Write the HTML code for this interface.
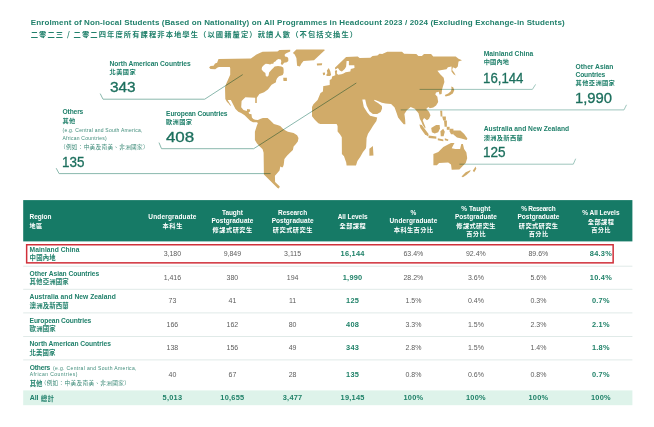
<!DOCTYPE html>
<html lang="en">
<head>
<meta charset="utf-8">
<title>Enrolment of Non-local Students</title>
<style>
html,body{margin:0;padding:0;background:#fff;}
body{width:654px;height:427px;position:relative;overflow:hidden;font-family:"Liberation Sans","Noto Sans CJK TC",sans-serif;color:#20806b;}
.t{position:absolute;white-space:nowrap;line-height:1;margin:0;}
.b{font-weight:bold;}
.w{color:#fff;}
.num{color:#1c6f5d;-webkit-text-stroke:0.3px #1c6f5d;}
.zh{font-weight:bold;font-family:"Noto Sans CJK TC","Liberation Sans",sans-serif;}
.sm{color:#3f8c7a;}
.smzh{color:#3f8c7a;font-family:"Noto Sans CJK TC","Liberation Sans",sans-serif;}
.dv{color:#5c5c5c;}
.dv.b{color:#1f8168;letter-spacing:0.25px;}
svg{position:absolute;left:0;top:0;}
</style>
</head>
<body>
<svg width="654" height="427" viewBox="0 0 654 427">
<g fill="#d1ab69" stroke="none">
<polygon points="209.1,67.5 210.5,66.1 213.6,65.7 215.0,63.5 217.1,62.7 218.5,59.1 250.9,58.6 255.1,55.5 256.0,54.8 259.7,52.9 262.6,51.7 277.5,51.5 279.4,50.1 290.2,49.8 290.2,51.5 287.9,52.4 285.8,53.4 284.6,54.8 285.0,56.6 287.4,57.1 288.3,58.5 288.3,60.9 286.9,62.3 284.1,62.7 283.2,64.1 282.2,65.1 280.8,64.1 281.3,61.3 280.8,59.5 278.5,59.0 276.6,59.9 275.7,61.3 273.8,62.3 273.3,63.7 271.5,63.7 270.1,64.6 268.2,64.1 265.8,63.7 264.0,65.1 262.1,67.0 261.6,69.3 263.0,71.2 265.4,73.0 265.8,75.9 267.2,76.8 268.6,75.4 269.1,72.6 271.5,69.8 273.3,67.9 274.7,66.5 278.0,66.0 281.3,66.5 283.2,67.4 283.6,69.3 283.6,73.0 282.7,74.9 279.0,76.3 277.1,78.2 276.1,80.5 276.0,82.3 271.6,84.7 267.9,89.4 264.1,92.2 259.4,94.0 256.8,97.8 256.8,103.0 255.2,103.0 255.2,97.8 245.4,97.3 241.6,101.1 241.2,107.2 243.5,110.0 246.8,110.9 247.2,109.0 250.1,109.5 250.1,111.4 248.6,112.3 249.1,113.7 251.5,114.2 251.9,117.5 253.3,119.0 255.1,119.8 257.9,120.1 260.7,118.7 262.9,118.0 267.6,117.9 270.4,120.4 273.9,123.9 277.4,124.9 280.2,126.1 283.7,129.6 287.9,131.7 293.6,133.1 297.1,135.2 298.5,138.0 297.8,141.5 295.7,144.3 293.6,146.4 292.9,149.9 290.0,152.7 287.2,155.6 284.4,159.1 283.7,164.7 283.1,166.4 282.2,167.4 280.3,166.4 279.5,170.6 276.5,173.9 274.9,175.8 275.1,181.9 279.8,186.6 278.9,188.4 277.5,188.0 263.9,174.4 263.6,152.7 262.6,149.2 259.8,146.4 257.0,143.6 254.9,140.1 254.9,131.7 256.8,125.7 257.9,122.9 256.8,122.2 253.0,122.2 250.2,120.8 247.4,118.0 244.6,115.2 241.1,113.1 238.3,111.7 235.5,108.9 233.3,104.7 230.9,99.9 227.7,100.1 229.6,103.2 231.2,105.8 230.1,105.4 228.4,103.3 227.0,101.9 225.3,99.0 225.0,87.2 226.0,84.3 228.1,79.4 230.2,74.8 230.2,68.2 229.8,67.1 219.0,67.1 217.6,67.5 215.2,69.3 210.5,68.9"/>
<polygon points="283.2,77.7 286.9,77.7 286.9,81.0 283.5,81.0"/>
<polygon points="292.9,53.1 296.4,49.6 323.8,49.6 325.0,49.9 314.0,60.2 303.5,60.9 301.3,63.7 299.9,66.5 297.1,65.8 296.4,58.1 294.7,54.5"/>
<polygon points="316.8,63.5 322.2,63.2 321.8,65.3 317.0,65.6"/>
<polygon points="326.9,70.5 328.8,68.1 330.2,71.0 331.1,74.7 330.2,76.1 327.4,76.1 326.0,75.2 327.4,73.3"/>
<polygon points="322.7,72.8 325.0,72.4 325.0,74.7 323.2,75.2"/>
<polygon points="346.1,56.9 334.9,67.7 335.3,69.4 337.9,68.1 339.7,70.5 341.9,71.4 344.7,69.1 346.1,66.7 346.6,61.1 348.9,61.1 348.9,65.3 354.3,65.3 354.5,68.1 350.8,69.1 350.3,71.4 345.6,72.2 343.5,73.5 341.4,74.2 338.1,74.7 336.7,73.3 337.2,71.0 336.3,70.0 334.9,71.0 335.3,75.2 333.5,76.1 332.1,76.6 331.6,78.9 329.7,79.9 329.7,85.0 324.1,85.9 323.3,86.0 322.9,91.6 320.5,93.0 317.6,100.0 313.4,104.2 312.0,107.0 312.0,116.2 314.8,119.7 318.3,123.2 320.5,123.9 336.6,123.9 337.6,126.0 337.6,131.6 340.1,134.4 341.8,137.2 341.9,154.0 344.0,156.2 346.2,162.5 346.6,165.6 356.0,165.6 357.4,161.0 360.2,156.9 363.0,151.9 365.8,148.4 366.2,146.4 366.6,137.9 368.0,133.7 370.8,129.5 372.9,126.0 376.4,121.1 377.2,117.6 370.1,115.7 367.3,112.6 363.8,107.0 362.4,100.0 362.4,99.5 365.2,99.5 366.6,105.6 369.4,111.2 372.9,114.1 377.2,114.1 380.7,111.9 382.1,108.4 381.9,106.0 378.0,103.0 374.2,100.8 374.5,99.8 378.4,101.3 381.9,102.7 385.5,103.4 391.1,104.1 394.6,107.6 396.7,113.3 398.1,117.5 400.9,121.0 403.7,124.2 405.4,124.2 405.1,118.9 404.4,114.0 406.8,110.2 410.7,106.9 414.7,108.8 418.5,113.3 419.9,118.9 421.3,121.5 422.7,125.1 425.1,128.6 425.5,127.2 424.1,123.7 422.7,120.2 424.1,118.1 427.0,120.2 429.0,118.8 430.5,115.3 429.0,111.8 427.0,109.7 426.2,109.0 428.3,106.9 429.8,108.3 433.3,107.6 436.1,105.5 438.2,101.9 437.5,97.7 437.4,96.7 435.3,94.6 436.0,92.5 438.8,91.8 439.5,94.6 441.6,93.9 442.0,89.7 443.0,86.2 444.4,81.9 443.7,77.7 440.2,74.2 437.4,70.7 446.5,69.3 447.9,67.2 451.5,66.5 451.5,71.4 453.6,74.2 455.7,75.6 454.3,72.8 452.2,70.0 452.9,67.2 455.7,68.6 457.8,66.5 458.5,61.6 462.0,60.2 458.5,58.8 455.7,56.4 433.2,56.4 431.1,54.1 424.0,54.1 421.9,55.9 418.4,55.9 416.3,54.1 404.1,53.8 402.0,51.7 387.2,51.7 382.3,54.1 379.5,53.8 377.4,55.5 372.5,55.9 370.4,57.8 359.6,58.0 357.7,56.6"/>
<polygon points="369.4,148.8 372.9,146.0 373.5,155.6 369.4,155.8"/>
<polygon points="451.2,86.6 453.2,87.2 454.3,90.2 452.8,93.6 449.6,95.6 445.6,96.6 444.8,95.0 448.2,93.4 450.6,91.4 451.6,89.0"/>
<polygon points="419.4,124.6 421.8,125.0 428.6,134.0 428.2,136.4 424.8,134.2 420.4,128.0"/>
<polygon points="428.6,135.6 436.3,136.6 436.3,138.8 428.6,138.0"/>
<polygon points="437.8,138.2 443.3,139.4 443.3,141.2 437.8,140.2"/>
<polygon points="444.8,138.2 448.4,139.4 448.0,141.0 444.8,140.2"/>
<polygon points="431.2,127.9 436.1,125.1 439.6,125.1 440.0,128.6 438.2,132.2 434.7,133.6 431.9,132.2"/>
<polygon points="440.4,131.2 443.2,128.8 444.8,131.8 443.6,136.2 440.8,136.2"/>
<polygon points="440.2,110.8 442.2,110.8 442.4,116.6 440.6,116.6"/>
<polygon points="442.2,116.6 445.9,116.6 445.9,120.4 443.2,120.4"/>
<polygon points="444.0,120.4 446.9,120.4 446.9,126.8 444.6,126.8"/>
<polygon points="446.8,126.8 449.6,126.8 449.6,129.8 446.8,129.8"/>
<polygon points="449.6,128.8 453.4,128.8 453.4,134.2 451.0,134.2 449.6,131.6"/>
<polygon points="452.4,130.6 460.4,130.6 464.2,134.0 467.4,138.6 466.6,140.0 461.4,138.4 457.0,137.4 453.4,134.6"/>
<polygon points="433.4,154.0 438.3,151.9 443.3,146.9 447.5,144.8 451.0,143.1 454.5,143.1 453.1,145.5 451.7,148.3 455.2,149.1 460.1,149.1 461.3,144.1 462.9,144.1 464.1,149.1 466.4,152.6 467.2,158.2 465.7,163.1 462.2,166.6 459.4,169.4 451.7,169.8 451.0,164.5 448.2,162.4 439.1,163.1 436.9,165.2 433.4,165.2"/>
<polygon points="461.5,176.4 465.7,172.2 470.7,170.1 470.0,171.8 466.4,175.0 462.9,177.2"/>
<polygon points="472.8,170.8 475.6,166.6 476.3,168.7 474.2,172.2"/>
</g>
<g fill="none" stroke-width="0.9" style="mix-blend-mode:multiply">
<polyline points="100.2,93.6 103.0,99.2 204.7,99.2 242.7,74.6" stroke="#7db0a4"/>
<polyline points="159.0,142.6 161.5,148.7 253.7,148.7 356.3,83.0" stroke="#7db0a4"/>
<polyline points="56.2,168.2 59.1,173.6 270.6,173.6" stroke="#7db0a4"/>
<polyline points="419.6,89.4 532.4,89.4 535.6,84.4" stroke="#93bfb5"/>
<polyline points="400.7,109.9 624.0,109.9 626.5,104.8" stroke="#93bfb5"/>
<polyline points="459.4,164.2 573.3,164.2 575.7,158.7" stroke="#93bfb5"/>
</g>
</svg>
<svg width="654" height="427" viewBox="0 0 654 427"><rect x="23.2" y="200.1" width="609.2" height="41.3" fill="#167a66"/><rect x="23.2" y="265.70" width="609.2" height="1" fill="#e0eae8"/><rect x="23.2" y="288.80" width="609.2" height="1" fill="#e0eae8"/><rect x="23.2" y="312.40" width="609.2" height="1" fill="#e0eae8"/><rect x="23.2" y="336.00" width="609.2" height="1" fill="#e0eae8"/><rect x="23.2" y="359.40" width="609.2" height="1" fill="#e0eae8"/><rect x="23.2" y="390.4" width="609.2" height="14.8" fill="#def3ea"/><rect x="26.65" y="244.75" width="586.5" height="18.1" fill="none" stroke="#d0303a" stroke-width="1.5"/></svg>
<div class="t b" id="i0" style="top:19.00px;font-size:8.0px;letter-spacing:0.141px;left:30.70px;">Enrolment of Non-local Students (Based on Nationality) on All Programmes in Headcount 2023 / 2024 (Excluding Exchange-in Students)</div>
<div class="t zh" id="i1" style="top:31.00px;font-size:7.3px;letter-spacing:1.075px;left:30.70px;">二零二三 / 二零二四年度所有課程非本地學生（以國籍釐定）就讀人數（不包括交換生）</div>
<div class="t b" id="i2" style="top:61.00px;font-size:6.7px;letter-spacing:-0.077px;left:109.50px;">North American Countries</div>
<div class="t zh" id="i3" style="top:69.00px;font-size:6.2px;letter-spacing:0.441px;left:109.50px;">北美國家</div>
<div class="t num" id="i4" style="top:80.00px;font-size:14.4px;transform:scaleX(1.067);transform-origin:0.58px 50%;left:109.50px;">343</div>
<div class="t b" id="i5" style="top:109.00px;font-size:6.7px;letter-spacing:-0.145px;left:62.50px;">Others</div>
<div class="t zh" id="i6" style="top:118.00px;font-size:6.2px;letter-spacing:0.197px;left:62.50px;">其他</div>
<div class="t sm" id="i7" style="top:128.00px;font-size:5.0px;letter-spacing:0.234px;left:62.50px;">(e.g. Central and South America,</div>
<div class="t sm" id="i8" style="top:136.00px;font-size:5.0px;letter-spacing:0.240px;left:62.50px;">African Countries)</div>
<div class="t smzh" id="i9" style="top:145.00px;font-size:5.6px;letter-spacing:0.330px;left:60.00px;">（例如：中美及南美、非洲國家）</div>
<div class="t num" id="i10" style="top:155.00px;font-size:14.4px;transform:scaleX(0.932);transform-origin:0.58px 50%;left:61.50px;">135</div>
<div class="t b" id="i11" style="top:111.00px;font-size:6.7px;letter-spacing:-0.146px;left:166.10px;">European Countries</div>
<div class="t zh" id="i12" style="top:119.00px;font-size:6.2px;letter-spacing:0.341px;left:166.10px;">歐洲國家</div>
<div class="t num" id="i13" style="top:130.00px;font-size:14.4px;transform:scaleX(1.181);transform-origin:0.58px 50%;left:166.10px;">408</div>
<div class="t b" id="i14" style="top:51.00px;font-size:6.7px;letter-spacing:0.009px;left:483.70px;">Mainland China</div>
<div class="t zh" id="i15" style="top:59.00px;font-size:6.2px;letter-spacing:0.207px;left:483.70px;">中國內地</div>
<div class="t num" id="i16" style="top:71.00px;font-size:14.4px;transform:scaleX(0.917);transform-origin:0.58px 50%;left:482.70px;">16,144</div>
<div class="t b" id="i17" style="top:64.00px;font-size:6.7px;letter-spacing:0.008px;left:575.60px;">Other Asian</div>
<div class="t b" id="i18" style="top:72.00px;font-size:6.7px;letter-spacing:-0.198px;left:575.60px;">Countries</div>
<div class="t zh" id="i19" style="top:80.00px;font-size:6.2px;letter-spacing:0.409px;left:575.60px;">其他亞洲國家</div>
<div class="t num" id="i20" style="top:91.00px;font-size:14.4px;transform:scaleX(1.030);transform-origin:0.58px 50%;left:574.60px;">1,990</div>
<div class="t b" id="i21" style="top:126.00px;font-size:6.7px;letter-spacing:0.014px;left:483.70px;">Australia and New Zealand</div>
<div class="t zh" id="i22" style="top:135.00px;font-size:6.2px;letter-spacing:0.369px;left:483.70px;">澳洲及新西蘭</div>
<div class="t num" id="i23" style="top:145.00px;font-size:14.4px;transform:scaleX(0.940);transform-origin:0.58px 50%;left:482.70px;">125</div>
<div class="t b w" id="i24" style="top:214.00px;font-size:6.5px;letter-spacing:-0.022px;left:29.50px;">Region</div>
<div class="t zh w" id="i25" style="top:223.00px;font-size:6.2px;letter-spacing:0.397px;left:29.50px;">地區</div>
<div class="t b w" id="i26" style="top:214.00px;font-size:6.5px;letter-spacing:0.157px;left:172.48px;transform:translateX(-50%);">Undergraduate</div>
<div class="t zh w" id="i27" style="top:223.00px;font-size:6.2px;letter-spacing:0.655px;left:172.73px;transform:translateX(-50%);">本科生</div>
<div class="t b w" id="i28" style="top:210.00px;font-size:6.5px;letter-spacing:-0.073px;left:232.36px;transform:translateX(-50%);">Taught</div>
<div class="t b w" id="i29" style="top:218.00px;font-size:6.5px;letter-spacing:0.034px;left:232.42px;transform:translateX(-50%);">Postgraduate</div>
<div class="t zh w" id="i30" style="top:227.00px;font-size:6.2px;letter-spacing:0.529px;left:232.66px;transform:translateX(-50%);">修課式研究生</div>
<div class="t b w" id="i31" style="top:210.00px;font-size:6.5px;letter-spacing:-0.037px;left:292.58px;transform:translateX(-50%);">Research</div>
<div class="t b w" id="i32" style="top:218.00px;font-size:6.5px;letter-spacing:0.034px;left:292.62px;transform:translateX(-50%);">Postgraduate</div>
<div class="t zh w" id="i33" style="top:227.00px;font-size:6.2px;letter-spacing:0.529px;left:292.86px;transform:translateX(-50%);">研究式研究生</div>
<div class="t b w" id="i34" style="top:214.00px;font-size:6.5px;letter-spacing:-0.060px;left:352.57px;transform:translateX(-50%);">All Levels</div>
<div class="t zh w" id="i35" style="top:223.00px;font-size:6.2px;letter-spacing:0.407px;left:352.80px;transform:translateX(-50%);">全部課程</div>
<div class="t b w" id="i36" style="top:210.00px;font-size:6.5px;left:413.40px;transform:translateX(-50%);">%</div>
<div class="t b w" id="i37" style="top:218.00px;font-size:6.5px;letter-spacing:0.124px;left:413.46px;transform:translateX(-50%);">Undergraduate</div>
<div class="t zh w" id="i38" style="top:227.00px;font-size:6.2px;letter-spacing:0.389px;left:413.59px;transform:translateX(-50%);">本科生百分比</div>
<div class="t b w" id="i39" style="top:206.00px;font-size:6.5px;letter-spacing:0.051px;left:475.93px;transform:translateX(-50%);">% Taught</div>
<div class="t b w" id="i40" style="top:214.00px;font-size:6.5px;letter-spacing:0.043px;left:475.92px;transform:translateX(-50%);">Postgraduate</div>
<div class="t zh w" id="i41" style="top:223.00px;font-size:6.2px;letter-spacing:0.389px;left:476.09px;transform:translateX(-50%);">修課式研究生</div>
<div class="t zh w" id="i42" style="top:231.00px;font-size:6.2px;letter-spacing:0.455px;left:476.13px;transform:translateX(-50%);">百分比</div>
<div class="t b w" id="i43" style="top:206.00px;font-size:6.5px;letter-spacing:-0.260px;left:538.27px;transform:translateX(-50%);">% Research</div>
<div class="t b w" id="i44" style="top:214.00px;font-size:6.5px;letter-spacing:0.034px;left:538.42px;transform:translateX(-50%);">Postgraduate</div>
<div class="t zh w" id="i45" style="top:223.00px;font-size:6.2px;letter-spacing:0.389px;left:538.59px;transform:translateX(-50%);">研究式研究生</div>
<div class="t zh w" id="i46" style="top:231.00px;font-size:6.2px;letter-spacing:0.455px;left:538.63px;transform:translateX(-50%);">百分比</div>
<div class="t b w" id="i47" style="top:210.00px;font-size:6.5px;letter-spacing:-0.044px;left:600.88px;transform:translateX(-50%);">% All Levels</div>
<div class="t zh w" id="i48" style="top:219.00px;font-size:6.2px;letter-spacing:0.441px;left:601.12px;transform:translateX(-50%);">全部課程</div>
<div class="t zh w" id="i49" style="top:227.00px;font-size:6.2px;letter-spacing:0.305px;left:601.05px;transform:translateX(-50%);">百分比</div>
<div class="t b" id="i50" style="top:247.00px;font-size:6.7px;letter-spacing:0.032px;left:29.60px;">Mainland China</div>
<div class="t zh" id="i51" style="top:255.00px;font-size:6.4px;letter-spacing:0.174px;left:29.60px;">中國內地</div>
<div class="t dv" id="i52" style="top:250.00px;font-size:7.0px;left:172.40px;transform:translateX(-50%);">3,180</div>
<div class="t dv" id="i53" style="top:250.00px;font-size:7.0px;left:232.40px;transform:translateX(-50%);">9,849</div>
<div class="t dv" id="i54" style="top:250.00px;font-size:7.0px;left:292.60px;transform:translateX(-50%);">3,115</div>
<div class="t b dv" id="i55" style="top:250.00px;font-size:7.4px;left:352.60px;transform:translateX(-50%);">16,144</div>
<div class="t dv" id="i56" style="top:250.00px;font-size:7.0px;left:413.40px;transform:translateX(-50%);">63.4%</div>
<div class="t dv" id="i57" style="top:250.00px;font-size:7.0px;left:475.90px;transform:translateX(-50%);">92.4%</div>
<div class="t dv" id="i58" style="top:250.00px;font-size:7.0px;left:538.40px;transform:translateX(-50%);">89.6%</div>
<div class="t b dv" id="i59" style="top:250.00px;font-size:7.4px;left:600.90px;transform:translateX(-50%);">84.3%</div>
<div class="t b" id="i60" style="top:271.00px;font-size:6.7px;letter-spacing:-0.055px;left:29.60px;">Other Asian Countries</div>
<div class="t zh" id="i61" style="top:279.00px;font-size:6.4px;letter-spacing:0.128px;left:29.60px;">其他亞洲國家</div>
<div class="t dv" id="i62" style="top:274.00px;font-size:7.0px;left:172.40px;transform:translateX(-50%);">1,416</div>
<div class="t dv" id="i63" style="top:274.00px;font-size:7.0px;left:232.40px;transform:translateX(-50%);">380</div>
<div class="t dv" id="i64" style="top:274.00px;font-size:7.0px;left:292.60px;transform:translateX(-50%);">194</div>
<div class="t b dv" id="i65" style="top:274.00px;font-size:7.4px;left:352.60px;transform:translateX(-50%);">1,990</div>
<div class="t dv" id="i66" style="top:274.00px;font-size:7.0px;left:413.40px;transform:translateX(-50%);">28.2%</div>
<div class="t dv" id="i67" style="top:274.00px;font-size:7.0px;left:475.90px;transform:translateX(-50%);">3.6%</div>
<div class="t dv" id="i68" style="top:274.00px;font-size:7.0px;left:538.40px;transform:translateX(-50%);">5.6%</div>
<div class="t b dv" id="i69" style="top:274.00px;font-size:7.4px;left:600.90px;transform:translateX(-50%);">10.4%</div>
<div class="t b" id="i70" style="top:294.00px;font-size:6.7px;letter-spacing:0.043px;left:29.60px;">Australia and New Zealand</div>
<div class="t zh" id="i71" style="top:303.00px;font-size:6.4px;letter-spacing:0.148px;left:29.60px;">澳洲及新西蘭</div>
<div class="t dv" id="i72" style="top:297.00px;font-size:7.0px;left:172.40px;transform:translateX(-50%);">73</div>
<div class="t dv" id="i73" style="top:297.00px;font-size:7.0px;left:232.40px;transform:translateX(-50%);">41</div>
<div class="t dv" id="i74" style="top:297.00px;font-size:7.0px;left:292.60px;transform:translateX(-50%);">11</div>
<div class="t b dv" id="i75" style="top:297.00px;font-size:7.4px;left:352.60px;transform:translateX(-50%);">125</div>
<div class="t dv" id="i76" style="top:297.00px;font-size:7.0px;left:413.40px;transform:translateX(-50%);">1.5%</div>
<div class="t dv" id="i77" style="top:297.00px;font-size:7.0px;left:475.90px;transform:translateX(-50%);">0.4%</div>
<div class="t dv" id="i78" style="top:297.00px;font-size:7.0px;left:538.40px;transform:translateX(-50%);">0.3%</div>
<div class="t b dv" id="i79" style="top:297.00px;font-size:7.4px;left:600.90px;transform:translateX(-50%);">0.7%</div>
<div class="t b" id="i80" style="top:318.00px;font-size:6.7px;letter-spacing:-0.134px;left:29.60px;">European Countries</div>
<div class="t zh" id="i81" style="top:326.00px;font-size:6.4px;letter-spacing:0.174px;left:29.60px;">歐洲國家</div>
<div class="t dv" id="i82" style="top:321.00px;font-size:7.0px;left:172.40px;transform:translateX(-50%);">166</div>
<div class="t dv" id="i83" style="top:321.00px;font-size:7.0px;left:232.40px;transform:translateX(-50%);">162</div>
<div class="t dv" id="i84" style="top:321.00px;font-size:7.0px;left:292.60px;transform:translateX(-50%);">80</div>
<div class="t b dv" id="i85" style="top:321.00px;font-size:7.4px;left:352.60px;transform:translateX(-50%);">408</div>
<div class="t dv" id="i86" style="top:321.00px;font-size:7.0px;left:413.40px;transform:translateX(-50%);">3.3%</div>
<div class="t dv" id="i87" style="top:321.00px;font-size:7.0px;left:475.90px;transform:translateX(-50%);">1.5%</div>
<div class="t dv" id="i88" style="top:321.00px;font-size:7.0px;left:538.40px;transform:translateX(-50%);">2.3%</div>
<div class="t b dv" id="i89" style="top:321.00px;font-size:7.4px;left:600.90px;transform:translateX(-50%);">2.1%</div>
<div class="t b" id="i90" style="top:341.00px;font-size:6.7px;letter-spacing:-0.072px;left:29.60px;">North American Countries</div>
<div class="t zh" id="i91" style="top:350.00px;font-size:6.4px;letter-spacing:0.107px;left:29.60px;">北美國家</div>
<div class="t dv" id="i92" style="top:344.00px;font-size:7.0px;left:172.40px;transform:translateX(-50%);">138</div>
<div class="t dv" id="i93" style="top:344.00px;font-size:7.0px;left:232.40px;transform:translateX(-50%);">156</div>
<div class="t dv" id="i94" style="top:344.00px;font-size:7.0px;left:292.60px;transform:translateX(-50%);">49</div>
<div class="t b dv" id="i95" style="top:344.00px;font-size:7.4px;left:352.60px;transform:translateX(-50%);">343</div>
<div class="t dv" id="i96" style="top:344.00px;font-size:7.0px;left:413.40px;transform:translateX(-50%);">2.8%</div>
<div class="t dv" id="i97" style="top:344.00px;font-size:7.0px;left:475.90px;transform:translateX(-50%);">1.5%</div>
<div class="t dv" id="i98" style="top:344.00px;font-size:7.0px;left:538.40px;transform:translateX(-50%);">1.4%</div>
<div class="t b dv" id="i99" style="top:344.00px;font-size:7.4px;left:600.90px;transform:translateX(-50%);">1.8%</div>
<div class="t b" id="i100" style="top:365.00px;font-size:6.7px;letter-spacing:-0.185px;left:29.70px;">Others</div>
<div class="t sm" id="i101" style="top:366.00px;font-size:5.0px;letter-spacing:0.350px;left:53.10px;">(e.g. Central and South America,</div>
<div class="t sm" id="i102" style="top:372.00px;font-size:5.0px;letter-spacing:0.452px;left:29.70px;">African Countries)</div>
<div class="t zh" id="i103" style="top:381.00px;font-size:6.4px;letter-spacing:0.003px;left:29.70px;">其他</div>
<div class="t smzh" id="i104" style="top:381.00px;font-size:5.6px;letter-spacing:0.372px;left:40.70px;">（例如：中美及南美、非洲國家）</div>
<div class="t dv" id="i105" style="top:371.00px;font-size:7.0px;left:172.40px;transform:translateX(-50%);">40</div>
<div class="t dv" id="i106" style="top:371.00px;font-size:7.0px;left:232.40px;transform:translateX(-50%);">67</div>
<div class="t dv" id="i107" style="top:371.00px;font-size:7.0px;left:292.60px;transform:translateX(-50%);">28</div>
<div class="t b dv" id="i108" style="top:371.00px;font-size:7.4px;left:352.60px;transform:translateX(-50%);">135</div>
<div class="t dv" id="i109" style="top:371.00px;font-size:7.0px;left:413.40px;transform:translateX(-50%);">0.8%</div>
<div class="t dv" id="i110" style="top:371.00px;font-size:7.0px;left:475.90px;transform:translateX(-50%);">0.6%</div>
<div class="t dv" id="i111" style="top:371.00px;font-size:7.0px;left:538.40px;transform:translateX(-50%);">0.8%</div>
<div class="t b dv" id="i112" style="top:371.00px;font-size:7.4px;left:600.90px;transform:translateX(-50%);">0.7%</div>
<div class="t b" id="i113" style="top:394.00px;font-size:7.0px;letter-spacing:-0.097px;left:29.70px;">All</div>
<div class="t zh" id="i114" style="top:395.00px;font-size:6.5px;letter-spacing:0.290px;left:40.80px;">總計</div>
<div class="t b dv" id="i115" style="top:394.00px;font-size:7.4px;left:172.40px;transform:translateX(-50%);">5,013</div>
<div class="t b dv" id="i116" style="top:394.00px;font-size:7.4px;left:232.40px;transform:translateX(-50%);">10,655</div>
<div class="t b dv" id="i117" style="top:394.00px;font-size:7.4px;left:292.60px;transform:translateX(-50%);">3,477</div>
<div class="t b dv" id="i118" style="top:394.00px;font-size:7.4px;left:352.60px;transform:translateX(-50%);">19,145</div>
<div class="t b dv" id="i119" style="top:394.00px;font-size:7.4px;left:413.40px;transform:translateX(-50%);">100%</div>
<div class="t b dv" id="i120" style="top:394.00px;font-size:7.4px;left:475.90px;transform:translateX(-50%);">100%</div>
<div class="t b dv" id="i121" style="top:394.00px;font-size:7.4px;left:538.40px;transform:translateX(-50%);">100%</div>
<div class="t b dv" id="i122" style="top:394.00px;font-size:7.4px;left:600.90px;transform:translateX(-50%);">100%</div>
</body>
</html>
